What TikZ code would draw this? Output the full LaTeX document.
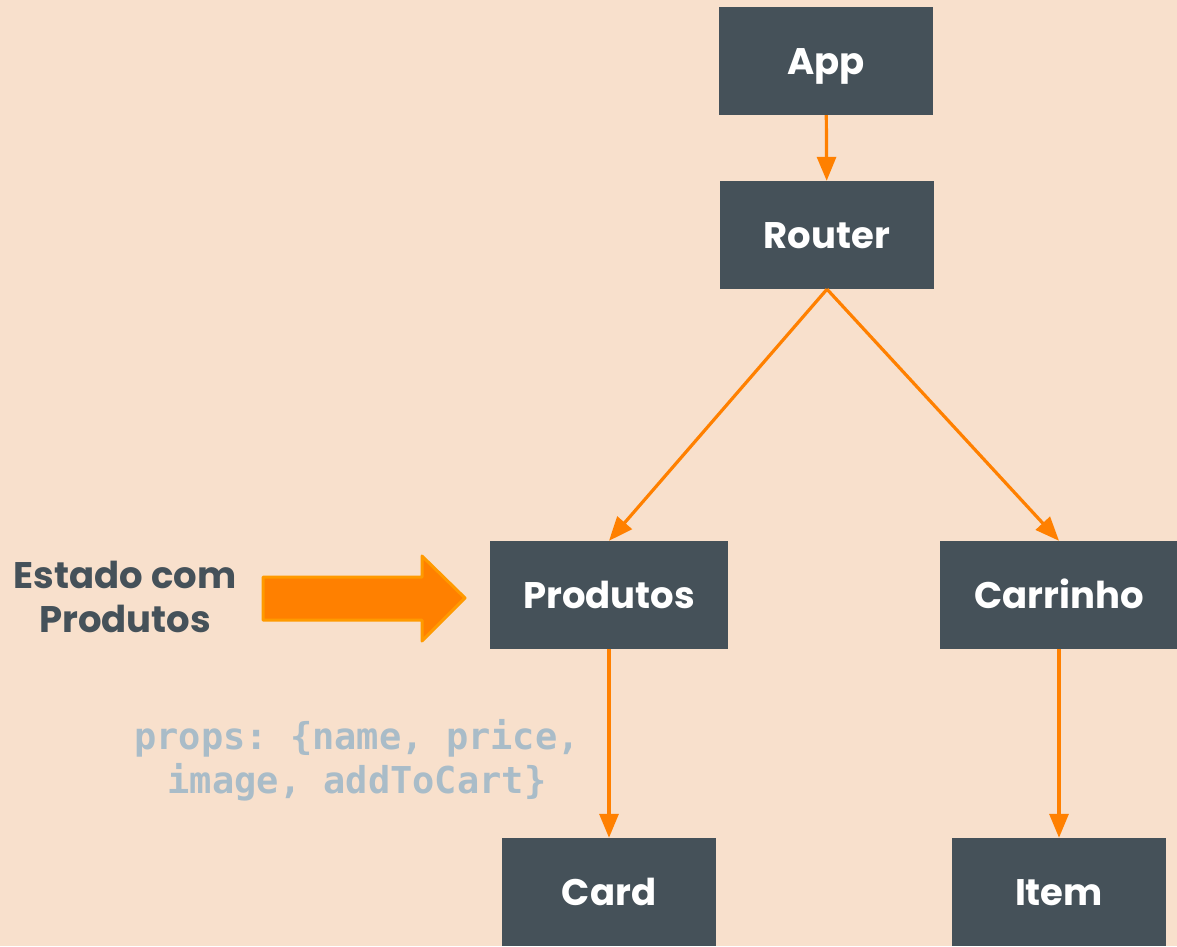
\documentclass[tikz,border=0pt]{standalone}
\usepackage{fontspec}
\setmainfont{Poppins}
\setmonofont{DejaVu Sans Mono}
\usetikzlibrary{arrows.meta}
\definecolor{peach}{HTML}{F8E0CC}
\definecolor{slate}{HTML}{455159}
\definecolor{tangerine}{HTML}{FF8000}
\definecolor{amber}{HTML}{FF9A00}
\definecolor{mist}{HTML}{A9BCC8}

\begin{document}
\begin{tikzpicture}[x=1pt,y=-1pt]
\tikzstyle{block}=[fill=slate,text=white,minimum width=214pt,minimum height=108pt,inner sep=0pt,text height=26pt,text depth=0pt,font=\fontsize{37}{44}\selectfont\bfseries]
\tikzstyle{wide}=[block,minimum width=238pt]
\tikzstyle{link}=[draw=tangerine,line width=3.2pt,-{Triangle[length=24pt,width=19pt]}]
\tikzstyle{note}=[text=slate,align=center,font=\fontsize{37}{44}\selectfont\bfseries]
\tikzstyle{props}=[text=mist,align=center,font=\fontsize{37}{44}\selectfont\ttfamily\bfseries]
\fill[peach] (0,0) rectangle (1177,946);
\useasboundingbox (0,0) rectangle (1177,946);
\node[block] (app) at (826,61) {App};
\node[block] (router) at (827,235) {Router};
\node[wide] (produtos) at (609,595) {Produtos};
\node[wide] (carrinho) at (1059,595) {Carrinho};
\node[block] (card) at (609,892) {Card};
\node[block] (item) at (1059,892) {Item};
\path[link] (app) -- (router);
\path[link] (router.south) -- (produtos.north);
\path[link] (router.south) -- (carrinho.north);
\path[link] (produtos) -- (card);
\path[link] (carrinho) -- (item);
% state arrow
\node[note] (estado) at (125,597) {Estado com\\Produtos};
\draw[fill=tangerine,draw=amber,line width=3pt,line join=round]
  (263,577) -- (422,577) -- (422,556) -- (465,598) -- (422,641) -- (422,620) -- (263,620) -- cycle;
\node[props] (propsnote) at (357,760) {props: \{name, price,\\image, addToCart\}};
\end{tikzpicture}
\end{document}
